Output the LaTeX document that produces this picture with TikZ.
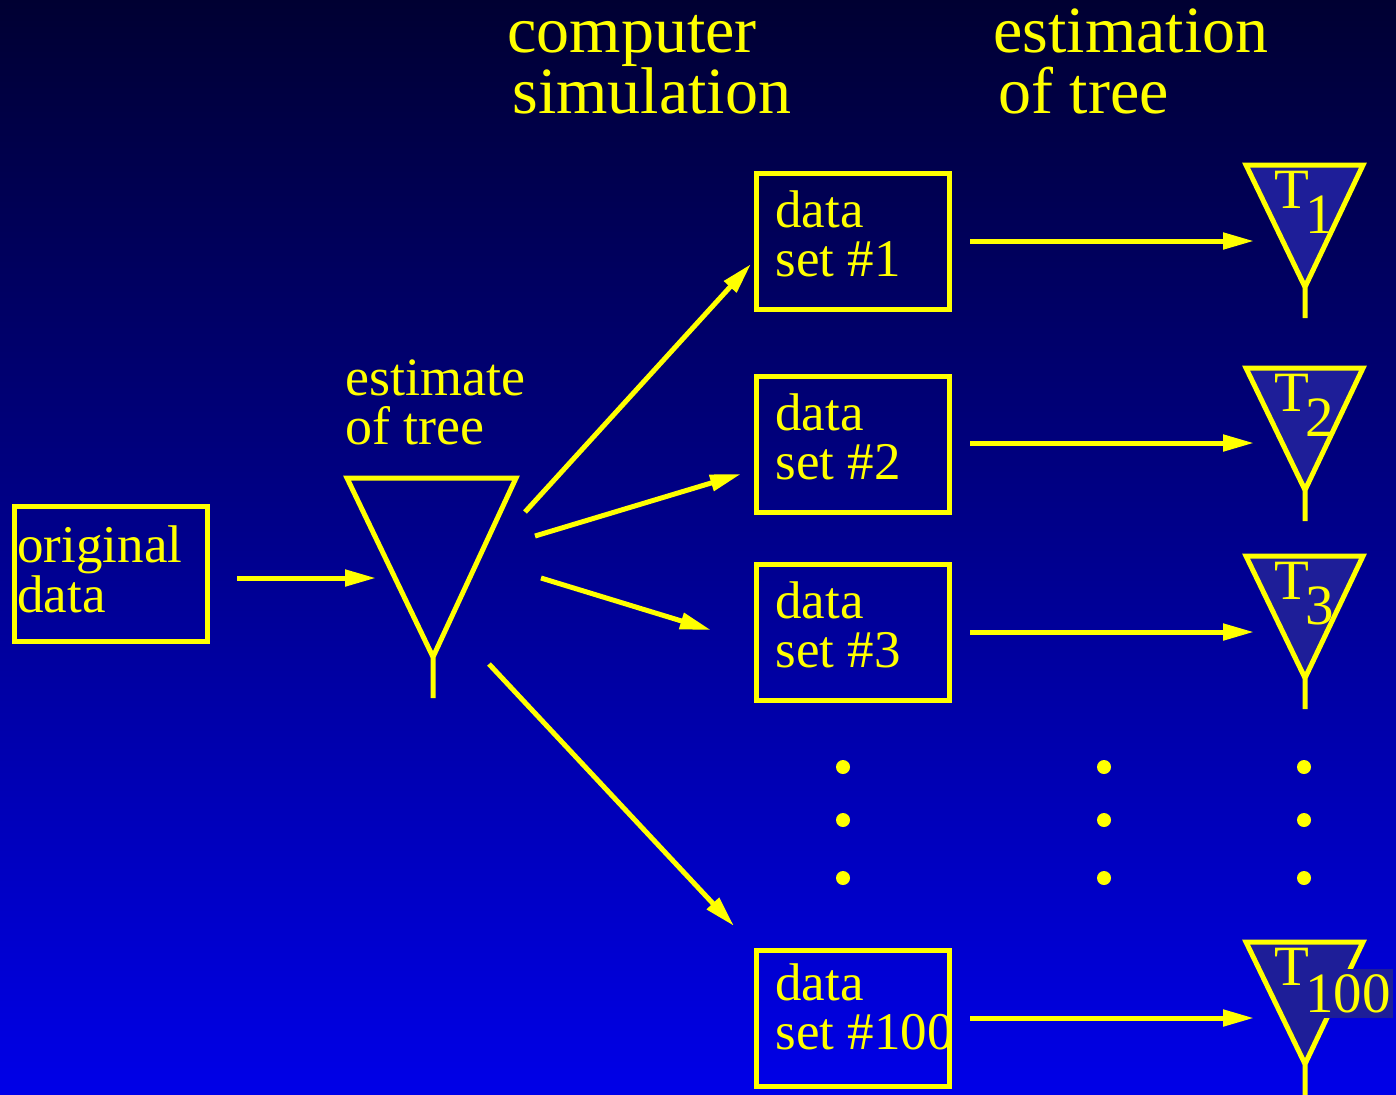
\documentclass[tikz,border=0pt]{standalone}
\usepackage{fontspec}
\setmainfont{Liberation Serif}
\usetikzlibrary{arrows.meta}
\definecolor{bgtop}{RGB}{0,0,50}
\definecolor{bgbot}{RGB}{0,0,232}
\definecolor{ylw}{RGB}{255,255,0}
\definecolor{treefill}{RGB}{30,30,152}
\begin{document}
\begin{tikzpicture}[x=0.5pt,y=-0.5pt,
  yline/.style={draw=ylw,line width=2.5pt},
  boxnode/.style={yline,rectangle,inner sep=0pt,minimum width=96.5pt,minimum height=68pt},
  lbl/.style={text=ylw,anchor=base west,inner sep=0pt,font=\fontsize{26.5}{30}\selectfont},
  head/.style={text=ylw,anchor=base west,inner sep=0pt,font=\fontsize{33}{38}\selectfont},
  tlbl/.style={text=ylw,anchor=base west,inner sep=0pt,font=\fontsize{28.5}{32}\selectfont},
  sublbl/.style={tlbl},
  subbox/.style={tlbl,fill=treefill,inner xsep=1pt,inner ysep=2.5pt},
  arr/.style={draw=ylw,line width=2.5pt,-{Triangle[length=15.5pt,width=8pt]}},
  treeline/.style={draw=ylw,line width=2.5pt,line join=miter},
  dot/.style={circle,fill=ylw,inner sep=0pt,minimum size=7pt}
]
% background
\shade[top color=bgtop,bottom color=bgbot] (0,0) rectangle (1396,1094);
\useasboundingbox (0,0) rectangle (1396,1094);

% headings
\node[head] (h1a) at (507,52) {computer};
\node[head] (h1b) at (512,113) {simulation};
\node[head] (h2a) at (993,52) {estimation};
\node[head] (h2b) at (998,113) {of tree};

% original data
\node[boxnode,minimum width=96.5pt,minimum height=67.5pt] (orig) at (110.5,573.5) {};
\node[lbl,font=\fontsize{26.5}{30}\selectfont] (origa) at (17,562) {original};
\node[lbl,font=\fontsize{26.5}{30}\selectfont] (origb) at (17,612) {data};

% estimated tree
\coordinate (tl) at (347,478);
\coordinate (tr) at (516,478);
\coordinate (tap) at (433,657);
\coordinate (tst) at (433,698);
\draw[treeline] (tl) -- (tr) -- (tap) -- cycle (tap) -- (tst);
\node[lbl,font=\fontsize{27}{30}\selectfont] (esta) at (345,395) {estimate};
\node[lbl,font=\fontsize{27}{30}\selectfont] (estb) at (345,444) {of tree};

% arrow original -> tree
\coordinate (oa) at (237,578);
\coordinate (ob) at (376,578);
\draw[arr] (oa) -- (ob);

% data boxes
\node[boxnode] (d1) at (852.5,241) {};
\node[boxnode] (d2) at (852.5,444) {};
\node[boxnode] (d3) at (852.5,632) {};
\node[boxnode] (d4) at (852.5,1018) {};
\node[lbl] (d1a) at (775,227) {data};
\node[lbl] (d1b) at (775,276) {set \#1};
\node[lbl] (d2a) at (775,430) {data};
\node[lbl] (d2b) at (775,479) {set \#2};
\node[lbl] (d3a) at (775,618) {data};
\node[lbl] (d3b) at (775,667) {set \#3};
\node[lbl] (d4a) at (775,1000) {data};
\node[lbl] (d4b) at (775,1049) {set \#100};

% arrows from tree to data sets
\coordinate (s1) at (525,512);  \coordinate (e1) at (751,264);
\coordinate (s2) at (535,536);  \coordinate (e2) at (741,474);
\coordinate (s3) at (541,578);  \coordinate (e3) at (711,630);
\coordinate (s4) at (489,664);  \coordinate (e4) at (734,926);
\draw[arr] (s1) -- (e1);
\draw[arr] (s2) -- (e2);
\draw[arr] (s3) -- (e3);
\draw[arr] (s4) -- (e4);

% arrows data sets -> trees
\foreach \n/\y in {1/241,2/443,3/632,4/1018}{
  \coordinate (a\n) at (970,\y);
  \coordinate (b\n) at (1254,\y);
  \draw[arr] (a\n) -- (b\n);
}

% estimated trees
\foreach \n/\t in {1/165,2/368,3/556,4/942}{
  \coordinate (T\n l) at (1246,\t);
  \coordinate (T\n r) at (1363,\t);
  \coordinate (T\n a) at (1305,\t+122);
  \coordinate (T\n s) at (1305,\t+153);
  \draw[treeline,fill=treefill] (T\n l) -- (T\n r) -- (T\n a) -- cycle (T\n a) -- (T\n s);
}
\node[tlbl] (t1T) at (1274,208) {T};
\node[sublbl] (t1s) at (1305,233) {1};
\node[tlbl] (t2T) at (1274,411) {T};
\node[sublbl] (t2s) at (1305,436) {2};
\node[tlbl] (t3T) at (1274,599) {T};
\node[sublbl] (t3s) at (1305,624) {3};
\node[subbox] (t4s) at (1303,1012) {100\hspace{12pt}};
\node[tlbl] (t4T) at (1274,985) {T};

% dots
\foreach \x [count=\i] in {843,1104,1304}{
  \foreach \y [count=\j] in {767,820,878}{
    \node[dot] (dot\i\j) at (\x,\y) {};
  }
}
\end{tikzpicture}
\end{document}
